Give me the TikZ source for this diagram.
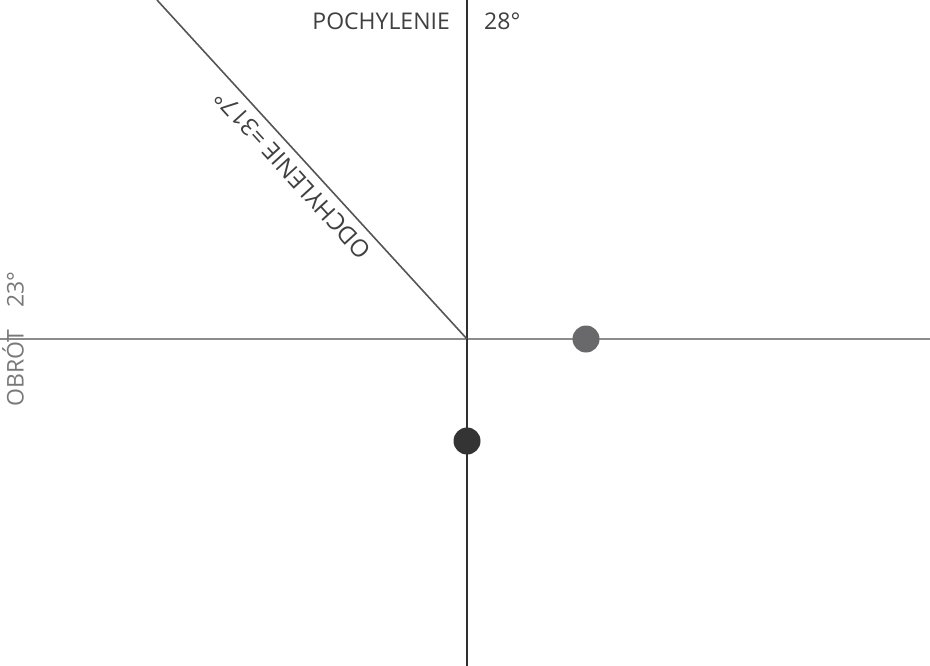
\documentclass[tikz,border=0pt]{standalone}
\usepackage{fontspec}
\setmainfont{Open Sans}
\usetikzlibrary{positioning}
\definecolor{AxD}{RGB}{48,48,48}
\definecolor{AxL}{RGB}{140,140,140}
\definecolor{DiaG}{RGB}{85,85,85}
\definecolor{TxD}{RGB}{64,64,64}
\definecolor{TxL}{RGB}{120,120,120}
\definecolor{DotG}{RGB}{105,105,108}
\definecolor{DotD}{RGB}{52,52,52}

\begin{document}
\begin{tikzpicture}[
  x=1pt, y=-1pt,
  lbl/.style={font=\fontsize{23}{27}\selectfont, text=#1, inner sep=0pt},
  dot/.style={circle, fill=#1, minimum size=27pt, inner sep=0pt}
]
\useasboundingbox (0,0) rectangle (930,666);

% axes end points
\coordinate (o)    at (467,339);
\coordinate (top)  at (467,0);
\coordinate (bot)  at (467,666);
\coordinate (lft)  at (0,339);
\coordinate (rgt)  at (930,339);
\coordinate (dtop) at (157,0);

% axes
\draw[AxL, line width=2pt] (lft) -- (rgt);
\draw[AxD, line width=2.2pt] (top) -- (bot);
\draw[DiaG, line width=1.6pt] (dtop) -- node[pos=0.48, anchor=south, rotate=132.4,
  lbl=TxD, font=\fontsize{24}{28}\selectfont, inner sep=8pt] (odch) {ODCHYLENIE =317°} (o);

% labels
\node[lbl=TxD, anchor=base east] (poch) at (450,29.5) {POCHYLENIE};
\node[lbl=TxD, anchor=base west] (poch28) at (484,29.5) {28°};
\node[lbl=TxL, anchor=base west, rotate=90] (obrot) at (23.5,407) {OBRÓT};
\node[lbl=TxL, anchor=base west, rotate=90] (obrot23) at (23.5,308) {23°};

% markers
\node[dot=DotG] (pg) at (586,339) {};
\node[dot=DotD] (pd) at (467,441) {};
\end{tikzpicture}
\end{document}
